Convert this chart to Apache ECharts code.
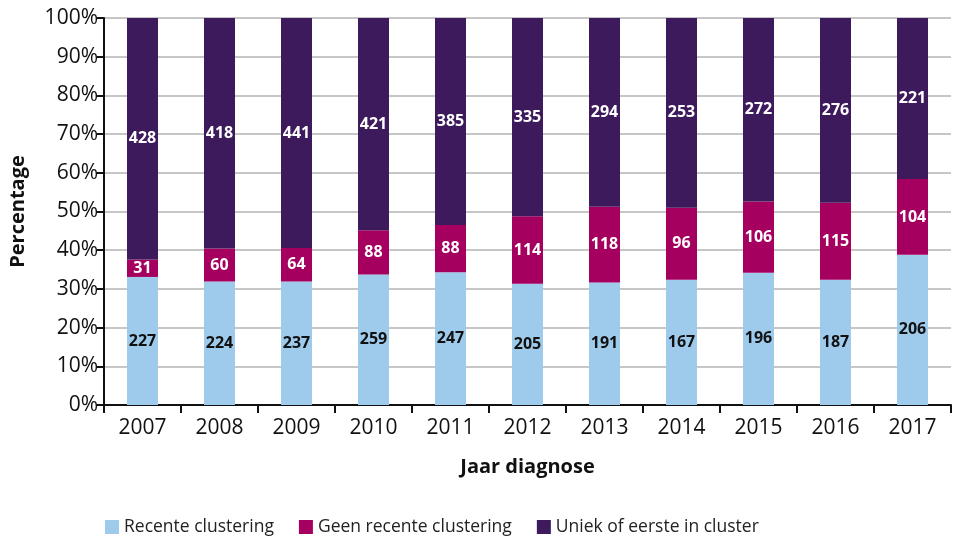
<!DOCTYPE html>
<html><head><meta charset="utf-8">
<script src="https://cdn.jsdelivr.net/npm/echarts@6/dist/echarts.min.js"></script>
<style>html,body{margin:0;padding:0;background:#fff}#c{width:965px;height:544px}</style>
</head><body><div id="c"></div>
<script>
const years = ['2007','2008','2009','2010','2011','2012','2013','2014','2015','2016','2017'];
const recente = [227,224,237,259,247,205,191,167,196,187,206];
const geenRecente = [31,60,64,88,88,114,118,96,106,115,104];
const uniek = [428,418,441,421,385,335,294,253,272,276,221];
const seriesNames = ['Recente clustering','Geen recente clustering','Uniek of eerste in cluster'];
const colors = ['#9ecbec','#a5005f','#3d1a5b'];
const labelColors = ['#111','#fff','#fff'];
const yTicks = [0,10,20,30,40,50,60,70,80,90,100];

const totals = years.map((_, i) => recente[i] + geenRecente[i] + uniek[i]);
const raw = [recente, geenRecente, uniek];
const FONT = '"Open Sans", "Noto Sans", sans-serif';

const chart = echarts.init(document.getElementById('c'));
chart.setOption({
  animation: false,
  textStyle: {fontFamily: FONT},
  grid: {left: 103, right: 14, top: 18, bottom: 139},
  legend: {
    bottom: 3, left: 100, itemWidth: 14, itemHeight: 14, itemGap: 25,
    icon: 'rect',
    textStyle: {fontSize: 17.5, color: '#222', fontFamily: FONT},
    data: seriesNames
  },
  xAxis: {
    type: 'category', data: years,
    name: 'Jaar diagnose', nameLocation: 'middle', nameGap: 52,
    nameTextStyle: {fontSize: 20, fontWeight: 'bold', color: '#111'},
    axisLine: {lineStyle: {color: '#111', width: 2}},
    axisTick: {show: true, length: 8, lineStyle: {color: '#111', width: 2}},
    axisLabel: {fontSize: 21, color: '#111', margin: 13}
  },
  yAxis: {
    type: 'value', min: 0, max: 100, interval: 10,
    name: 'Percentage', nameLocation: 'middle', nameGap: 76,
    nameTextStyle: {fontSize: 20, fontWeight: 'bold', color: '#111'},
    axisLine: {show: true, lineStyle: {color: '#111', width: 2}},
    axisTick: {show: true, length: 7, lineStyle: {color: '#111', width: 2}},
    axisLabel: {fontSize: 21, color: '#111', margin: 6, formatter: v => yTicks.includes(v) ? v + '%' : ''},
    splitLine: {lineStyle: {color: '#b3b3b3', width: 1.5}}
  },
  series: raw.map((arr, s) => ({
    name: seriesNames[s], type: 'bar', stack: 'total', barWidth: 31,
    itemStyle: {color: colors[s]},
    label: {
      show: true, position: 'inside', fontSize: 16, fontWeight: 'bold',
      color: labelColors[s], fontFamily: FONT,
      formatter: p => arr[p.dataIndex]
    },
    data: arr.map((v, i) => v / totals[i] * 100)
  }))
});
</script></body></html>
